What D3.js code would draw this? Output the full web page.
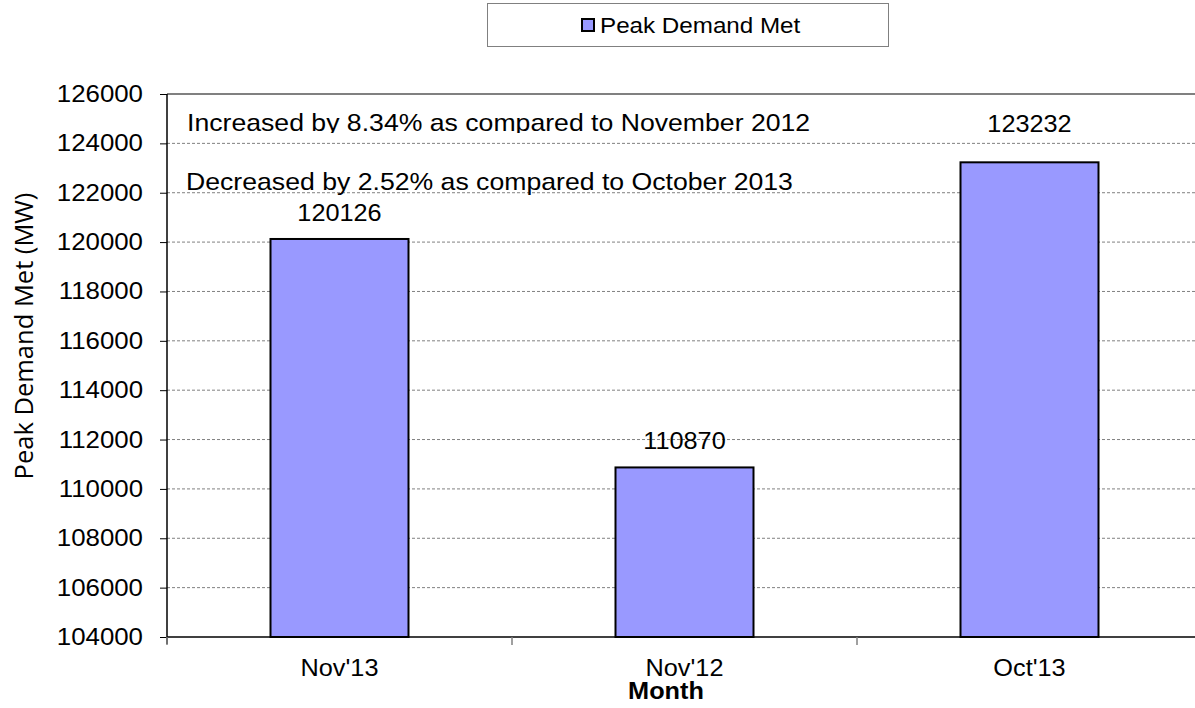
<!DOCTYPE html>
<html>
<head>
<meta charset="utf-8">
<script src="https://cdn.jsdelivr.net/npm/d3@7"></script>
<style>
  body { margin: 0; background: #fff; }
  svg text { font-family: "Liberation Sans", Arial, sans-serif; fill: #000; }
</style>
</head>
<body>
<div id="chart"></div>
<script>
// data
const months = ["Nov'13", "Nov'12", "Oct'13"];
const peakDemand = [120126, 110870, 123232];
const yTicks = [104000, 106000, 108000, 110000, 112000, 114000, 116000, 118000, 120000, 122000, 124000, 126000];
const notes = ["Increased by 8.34% as compared to November 2012", "Decreased by 2.52% as compared to October 2013"];
const seriesName = "Peak Demand Met";

const W = 1195, H = 708;
const plot = { left: 167, right: 1202, top: 94, bottom: 637 };
const sx = 1.1; // the picture is slightly stretched sideways
const barFill = "#9999ff";

const svg = d3.select("#chart").append("svg")
    .attr("width", W)
    .attr("height", H);

const x = d3.scaleBand()
    .domain(months)
    .range([plot.left, plot.right])
    .paddingInner(0.6)
    .paddingOuter(0.3);

const y = d3.scaleLinear()
    .domain([104000, 126000])
    .range([plot.bottom, plot.top]);

// helper - text stretched horizontally
function label(g, px, py, txt, size, anchor, stretch) {
    return g.append("text")
        .attr("transform", "translate(" + px + "," + py + ") scale(" + (stretch || sx) + ",1)")
        .attr("text-anchor", anchor || "start")
        .style("font-size", size + "px")
        .text(txt);
}

// gridlines
svg.append("g")
    .selectAll("line")
    .data(yTicks.filter(d => d > 104000 && d < 126000))
    .join("line")
    .attr("x1", plot.left).attr("x2", W)
    .attr("y1", d => y(d)).attr("y2", d => y(d))
    .attr("stroke", "#808080")
    .attr("stroke-width", 1)
    .attr("stroke-dasharray", "3,2");

// top border of plot area
svg.append("line")
    .attr("x1", plot.left).attr("x2", W)
    .attr("y1", y(126000)).attr("y2", y(126000))
    .attr("stroke", "#808080")
    .attr("stroke-width", 2);

// bars
svg.append("g")
    .selectAll("rect")
    .data(months)
    .join("rect")
    .attr("x", d => x(d))
    .attr("y", (d, i) => y(peakDemand[i]))
    .attr("width", x.bandwidth())
    .attr("height", (d, i) => y(104000) - y(peakDemand[i]))
    .attr("fill", barFill)
    .attr("stroke", "#000")
    .attr("stroke-width", 2);

// y axis
const yAxis = svg.append("g")
    .attr("transform", "translate(" + plot.left + ",0)")
    .call(d3.axisLeft(y).tickValues(yTicks).tickSize(7).tickFormat(d3.format("d")));
yAxis.select(".domain").remove();
yAxis.selectAll(".tick line").attr("stroke", "#000");
yAxis.selectAll(".tick text").remove();
yAxis.append("line")
    .attr("x1", 0).attr("x2", 0)
    .attr("y1", plot.top).attr("y2", plot.bottom + 7)
    .attr("stroke", "#000").attr("stroke-width", 1.5);

yTicks.forEach(t => label(svg, 143, y(t) + 8, String(t), 23.5, "end"));

// x axis
svg.append("line")
    .attr("x1", plot.left).attr("x2", W)
    .attr("y1", plot.bottom).attr("y2", plot.bottom)
    .attr("stroke", "#000").attr("stroke-width", 1.5);

const step = x.step();
svg.append("g")
    .selectAll("line")
    .data(months)
    .join("line")
    .attr("x1", d => x(d) - step * 0.3)
    .attr("x2", d => x(d) - step * 0.3)
    .attr("y1", plot.bottom).attr("y2", plot.bottom + 8)
    .attr("stroke", "#808080").attr("stroke-width", 1.5);

months.forEach(m => label(svg, x(m) + x.bandwidth() / 2, 676, m, 23, "middle"));

// value labels
const labelGap = [18, 18, 30];
months.forEach((m, i) => {
    label(svg, x(m) + x.bandwidth() / 2, y(peakDemand[i]) - labelGap[i], String(peakDemand[i]), 23, "middle");
});

// notes (first one is cut off at the bottom in the original text box)
svg.append("clipPath").attr("id", "noteClip")
    .append("rect").attr("x", 0).attr("y", 0).attr("width", W).attr("height", 133);
const clipped = svg.append("g").attr("clip-path", "url(#noteClip)");
label(clipped, 187, 131, notes[0], 24, "start", 1.11);
label(svg, 186, 190, notes[1], 24, "start", 1.11);

// axis titles
label(svg, 666, 699, "Month", 23, "middle").style("font-weight", "bold");

svg.append("text")
    .attr("transform", "translate(33,336) rotate(-90)")
    .attr("text-anchor", "middle")
    .style("font-family", "'Open Sans', sans-serif")
    .style("font-size", "25.5px")
    .text("Peak Demand Met (MW)");

// legend
const lg = svg.append("g");
lg.append("rect")
    .attr("x", 487.5).attr("y", 3.5)
    .attr("width", 401).attr("height", 43)
    .attr("fill", "#fff")
    .attr("stroke", "#808080").attr("stroke-width", 1);
lg.append("rect")
    .attr("x", 582).attr("y", 19)
    .attr("width", 12).attr("height", 12)
    .attr("fill", barFill)
    .attr("stroke", "#000").attr("stroke-width", 2);
label(lg, 600, 33, seriesName, 22);
</script>
</body>
</html>
